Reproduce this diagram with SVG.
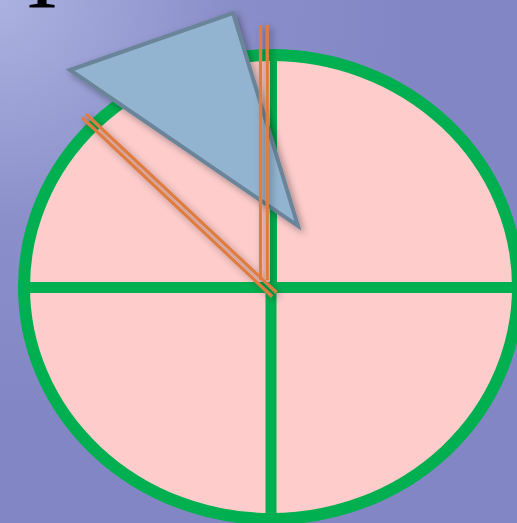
<svg xmlns="http://www.w3.org/2000/svg" width="517" height="523" viewBox="0 0 517 523">
  <defs>
    <radialGradient id="bg" cx="0" cy="0" r="420" gradientUnits="userSpaceOnUse">
      <stop offset="0" stop-color="#abb2e0"/>
      <stop offset="0.55" stop-color="#8a8ec9"/>
      <stop offset="1" stop-color="#8286c4"/>
    </radialGradient>
    <filter id="shadow" x="-30%" y="-30%" width="160%" height="160%">
      <feDropShadow dx="3" dy="3" stdDeviation="3.5" flood-color="#000" flood-opacity="0.35"/>
    </filter>
  </defs>
  <style>
    .pie { fill: #fdcccb; stroke: #00b050; stroke-width: 12; }
    .div { stroke: #00b050; stroke-width: 11; fill: none; }
    .hand { stroke: #df7d41; stroke-width: 3.2; fill: none; }
    .tri { fill: #93b4d0; stroke: #6b8599; stroke-width: 4; stroke-linejoin: miter; }
    .glyph { font-family: "Liberation Serif", serif; font-size: 96px; fill: #000; }
  </style>
  <rect width="517" height="523" fill="url(#bg)"/>
  <text class="glyph" x="26" y="8">I</text>
  <g id="pie">
    <ellipse class="pie" cx="271" cy="287" rx="247" ry="232"/>
    <line class="div" x1="30" y1="287.5" x2="512" y2="287.5"/>
    <line class="div" x1="271" y1="287" x2="271" y2="514"/>
    <line class="div" x1="273.5" y1="60" x2="273.5" y2="287" style="stroke-width:7"/>
  </g>
  <g id="triangle" filter="url(#shadow)">
    <polygon class="tri" points="70,70 233,13 298,226"/>
  </g>
  <g id="connectors" filter="url(#shadow)">
    <line class="hand" x1="86" y1="114" x2="276.5" y2="292.5"/>
    <line class="hand" x1="82" y1="117.5" x2="272" y2="296.5"/>
    <line class="hand" x1="260.5" y1="25" x2="260.5" y2="280"/>
    <line class="hand" x1="267.3" y1="25" x2="267.3" y2="280"/>
  </g>
</svg>
